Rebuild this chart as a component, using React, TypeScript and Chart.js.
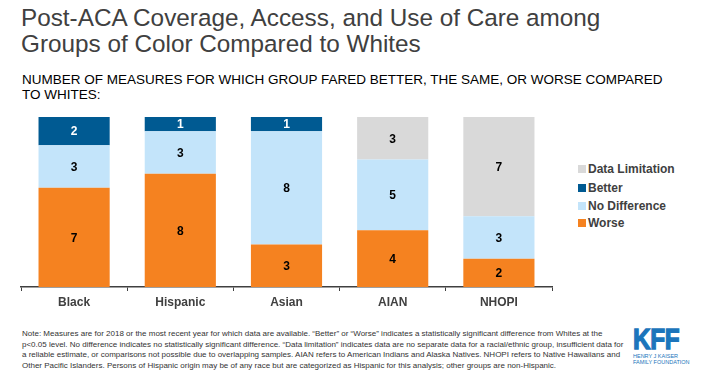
import React, { useEffect, useRef } from "react";
import { Chart, registerables } from "chart.js";

Chart.register(...registerables);

const categories = ["Black", "Hispanic", "Asian", "AIAN", "NHOPI"];
const worse = [7, 8, 3, 4, 2];
const noDifference = [3, 3, 8, 5, 3];
const better = [2, 1, 1, 0, 0];
const dataLimitation = [0, 0, 0, 3, 7];
const seriesLabels = ["Worse", "No Difference", "Better", "Data Limitation"];
const seriesColors = ["#F58220", "#C3E4FA", "#005A92", "#D9D9D9"];
const valueLabelColors = ["#000000", "#000000", "#FFFFFF", "#000000"];
const yMax = 12;

const FONT = "'Liberation Sans', Arial, Helvetica, sans-serif";

const valueLabels = {
  id: "valueLabels",
  afterDatasetsDraw(chart: any) {
    const ctx = chart.ctx;
    ctx.save();
    ctx.font = `bold 12px ${FONT}`;
    ctx.textAlign = "center";
    ctx.textBaseline = "middle";
    chart.data.datasets.forEach((ds: any, i: number) => {
      const meta = chart.getDatasetMeta(i);
      meta.data.forEach((bar: any, j: number) => {
        const v = ds.data[j];
        if (!v) return;
        const p = bar.getProps(["x", "y", "base"], true);
        ctx.fillStyle = valueLabelColors[i];
        ctx.fillText(String(v), p.x, (p.y + p.base) / 2 + 1);
      });
    });
    ctx.restore();
  },
};

function BarChart() {
  const ref = useRef<HTMLCanvasElement | null>(null);
  useEffect(() => {
    if (!ref.current) return;
    const series = [worse, noDifference, better, dataLimitation];
    const chart = new Chart(ref.current, {
      type: "bar",
      data: {
        labels: categories,
        datasets: series.map((d, i) => ({
          label: seriesLabels[i],
          data: d,
          backgroundColor: seriesColors[i],
          borderWidth: 0,
          categoryPercentage: 1,
          barPercentage: 0.67,
        })),
      },
      options: {
        animation: false,
        responsive: false,
        maintainAspectRatio: false,
        layout: { padding: { left: 21, right: 8, top: 12, bottom: 0 } },
        plugins: {
          legend: { display: false },
          tooltip: { enabled: false },
        },
        scales: {
          x: {
            stacked: true,
            grid: {
              display: true,
              drawOnChartArea: false,
              drawTicks: true,
              tickLength: 4,
              color: "#404040",
              lineWidth: 1,
              offset: true,
            },
            border: { display: true, color: "#404040", width: 1.5 },
            ticks: {
              color: "#404040",
              font: { family: FONT, size: 12, weight: "bold" },
              padding: 4,
            },
            afterFit: (s: any) => {
              s.height = 28;
            },
          },
          y: { stacked: true, display: false, min: 0, max: yMax },
        },
      } as any,
      plugins: [valueLabels],
    });
    return () => chart.destroy();
  }, []);
  return (
    <canvas
      ref={ref}
      width={560}
      height={210}
      style={{ position: "absolute", left: 0, top: 105, width: 560, height: 210 }}
    />
  );
}

const legendOrder = [3, 2, 1, 0];
const legendCenters = [169, 188, 206, 223];

export default function App() {
  return (
    <div
      style={{
        position: "absolute",
        left: 0,
        top: 0,
        width: 702,
        height: 374,
        background: "#fff",
        fontFamily: FONT,
        overflow: "hidden",
      }}
    >
      <div
        style={{
          position: "absolute",
          left: 21,
          top: 5,
          fontSize: 24.3,
          lineHeight: "26px",
          color: "#404040",
          whiteSpace: "nowrap",
        }}
      >
        Post-ACA Coverage, Access, and Use of Care among
        <br />
        Groups of Color Compared to Whites
      </div>
      <div
        style={{
          position: "absolute",
          left: 22,
          top: 72,
          fontSize: 13.5,
          lineHeight: "15px",
          color: "#000",
          whiteSpace: "nowrap",
        }}
      >
        NUMBER OF MEASURES FOR WHICH GROUP FARED BETTER, THE SAME, OR WORSE COMPARED
        <br />
        TO WHITES:
      </div>
      <BarChart />
      {legendOrder.map((si, k) => (
        <div
          key={si}
          style={{
            position: "absolute",
            left: 578,
            top: legendCenters[k] - 8,
            height: 16,
            display: "flex",
            alignItems: "center",
            whiteSpace: "nowrap",
          }}
        >
          <span
            style={{
              display: "inline-block",
              width: 8,
              height: 8,
              background: seriesColors[si],
              marginRight: 2,
            }}
          />
          <span style={{ fontSize: 12, fontWeight: "bold", color: "#404040" }}>
            {seriesLabels[si]}
          </span>
        </div>
      ))}
      <div
        style={{
          position: "absolute",
          left: 22,
          top: 329,
          fontSize: 8,
          lineHeight: "10.7px",
          color: "#333",
          whiteSpace: "nowrap",
        }}
      >
        Note: Measures are for 2018 or the most recent year for which data are available. “Better” or “Worse” indicates a statistically significant difference from Whites at the
        <br />
        p&lt;0.05 level. No difference indicates no statistically significant difference. “Data limitation” indicates data are no separate data for a racial/ethnic group, insufficient data for
        <br />
        a reliable estimate, or comparisons not possible due to overlapping samples. AIAN refers to American Indians and Alaska Natives. NHOPI refers to Native Hawaiians and
        <br />
        Other Pacific Islanders. Persons of Hispanic origin may be of any race but are categorized as Hispanic for this analysis; other groups are non-Hispanic.
      </div>
      <div style={{ position: "absolute", left: 633, top: 324, color: "#1B75BB" }}>
        <div
          style={{
            fontSize: 29,
            fontWeight: "bold",
            lineHeight: "30px",
            transform: "scaleX(0.84)",
            transformOrigin: "left top",
            letterSpacing: -0.5,
            WebkitTextStroke: "1.3px #1B75BB",
          }}
        >
          KFF
        </div>
        <div
          style={{
            fontSize: 5.5,
            lineHeight: "6px",
            whiteSpace: "nowrap",
            marginTop: -1,
          }}
        >
          HENRY J KAISER
          <br />
          FAMILY FOUNDATION
        </div>
      </div>
    </div>
  );
}
